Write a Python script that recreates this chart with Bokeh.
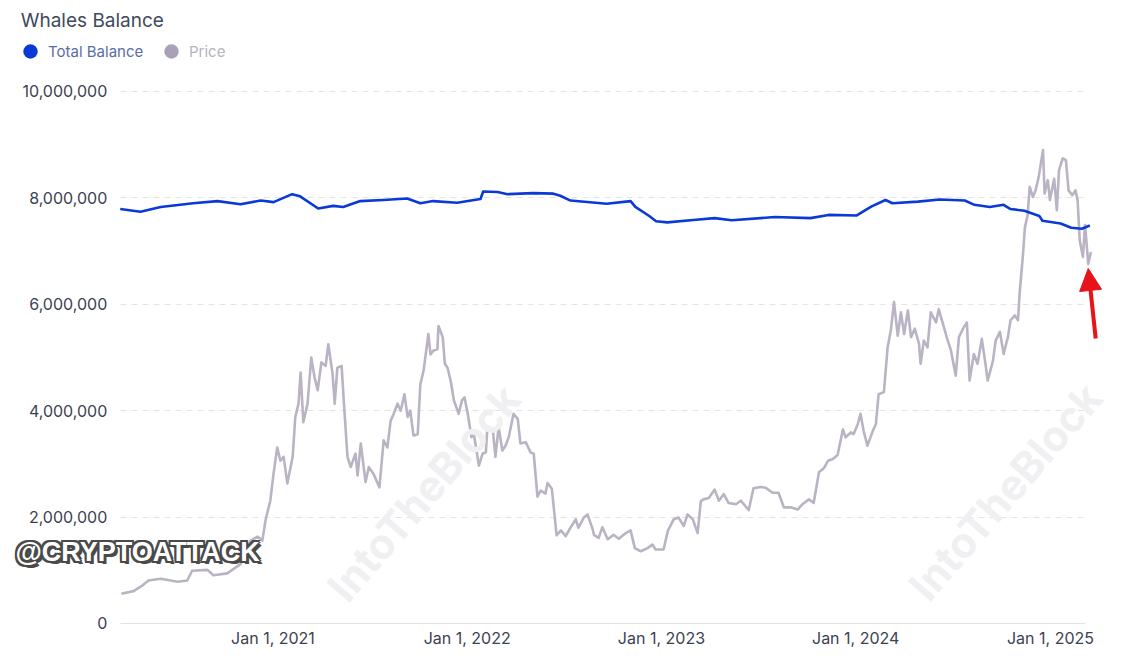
import pandas as pd
from bokeh.plotting import figure
from bokeh.models import (Range1d, FixedTicker, NumeralTickFormatter, Legend, LegendItem,
                          Label, Arrow, NormalHead, ColumnDataSource, Grid)
from bokeh.embed import file_html
from bokeh.resources import INLINE

# ---------------- data ----------------
balance_dates = [
    "2020-03-20", "2020-04-27", "2020-06-04", "2020-08-04", "2020-09-19", "2020-11-01",
    "2020-12-09", "2021-01-02", "2021-02-06", "2021-02-21", "2021-03-27", "2021-04-24",
    "2021-05-13", "2021-06-14", "2021-07-27", "2021-09-10", "2021-10-05", "2021-10-29",
    "2021-12-13", "2022-01-26", "2022-01-31", "2022-02-27", "2022-03-18", "2022-05-05",
    "2022-06-12", "2022-06-25", "2022-07-14", "2022-09-20", "2022-11-04", "2022-11-13",
    "2022-12-09", "2022-12-22", "2023-01-12", "2023-03-07", "2023-04-11", "2023-05-13",
    "2023-08-02", "2023-10-08", "2023-11-11", "2024-01-03", "2024-01-31", "2024-02-26",
    "2024-03-10", "2024-04-27", "2024-06-07", "2024-07-24", "2024-08-11", "2024-09-09",
    "2024-10-05", "2024-10-18", "2024-11-13", "2024-12-11", "2024-12-17", "2025-01-20",
    "2025-02-09", "2025-03-01", "2025-03-16",
]
balance_values = [
    7790000, 7740000, 7830000, 7900000, 7940000, 7880000,
    7950000, 7920000, 8070000, 8030000, 7800000, 7850000,
    7830000, 7940000, 7960000, 7990000, 7900000, 7940000,
    7910000, 7980000, 8120000, 8110000, 8070000, 8090000,
    8080000, 8040000, 7950000, 7890000, 7940000, 7830000,
    7660000, 7560000, 7540000, 7590000, 7620000, 7580000,
    7640000, 7620000, 7680000, 7670000, 7840000, 7960000,
    7900000, 7930000, 7970000, 7950000, 7870000, 7830000,
    7870000, 7790000, 7760000, 7660000, 7570000, 7520000,
    7440000, 7420000, 7480000,
]

price_dates = [
    "2020-03-22", "2020-04-14", "2020-05-01", "2020-05-12", "2020-06-04", "2020-07-06",
    "2020-07-24", "2020-08-02", "2020-08-31", "2020-09-11", "2020-10-07", "2020-11-01",
    "2020-11-20", "2020-12-03", "2020-12-12", "2020-12-18", "2020-12-27", "2021-01-02",
    "2021-01-09", "2021-01-15", "2021-01-21", "2021-01-28", "2021-02-07", "2021-02-12",
    "2021-02-18", "2021-02-22", "2021-02-27", "2021-03-07", "2021-03-14", "2021-03-20",
    "2021-03-26", "2021-04-02", "2021-04-10", "2021-04-15", "2021-04-23", "2021-04-27",
    "2021-05-02", "2021-05-10", "2021-05-14", "2021-05-21", "2021-05-27", "2021-06-05",
    "2021-06-09", "2021-06-15", "2021-06-24", "2021-06-30", "2021-07-09", "2021-07-20",
    "2021-07-28", "2021-08-04", "2021-08-10", "2021-08-16", "2021-08-23", "2021-08-29",
    "2021-09-05", "2021-09-11", "2021-09-16", "2021-09-22", "2021-09-30", "2021-10-05",
    "2021-10-11", "2021-10-20", "2021-10-24", "2021-10-30", "2021-11-06", "2021-11-08",
    "2021-11-16", "2021-11-20", "2021-11-25", "2021-12-01", "2021-12-07", "2021-12-16",
    "2021-12-22", "2021-12-27", "2022-01-02", "2022-01-09", "2022-01-13", "2022-01-23",
    "2022-01-30", "2022-02-05", "2022-02-08", "2022-02-18", "2022-02-23", "2022-03-01",
    "2022-03-08", "2022-03-14", "2022-03-20", "2022-03-29", "2022-04-06", "2022-04-11",
    "2022-04-21", "2022-04-30", "2022-05-06", "2022-05-13", "2022-05-19", "2022-05-28",
    "2022-06-01", "2022-06-09", "2022-06-18", "2022-06-26", "2022-07-05", "2022-07-14",
    "2022-07-24", "2022-07-29", "2022-08-08", "2022-08-15", "2022-08-25", "2022-08-27",
    "2022-09-05", "2022-09-12", "2022-09-22", "2022-10-03", "2022-10-13", "2022-10-26",
    "2022-11-04", "2022-11-12", "2022-11-23", "2022-12-06", "2022-12-15", "2022-12-21",
    "2023-01-05", "2023-01-13", "2023-01-24", "2023-02-02", "2023-02-12", "2023-02-19",
    "2023-03-01", "2023-03-10", "2023-03-16", "2023-03-21", "2023-03-31", "2023-04-11",
    "2023-04-19", "2023-04-28", "2023-05-07", "2023-05-21", "2023-05-30", "2023-06-14",
    "2023-06-23", "2023-07-06", "2023-07-16", "2023-07-29", "2023-08-09", "2023-08-19",
    "2023-09-01", "2023-09-14", "2023-09-23", "2023-10-05", "2023-10-14", "2023-10-24",
    "2023-11-02", "2023-11-10", "2023-11-19", "2023-11-28", "2023-12-08", "2023-12-13",
    "2023-12-23", "2023-12-28", "2024-01-05", "2024-01-10", "2024-01-16", "2024-01-23",
    "2024-02-02", "2024-02-08", "2024-02-13", "2024-02-23", "2024-03-01", "2024-03-07",
    "2024-03-13", "2024-03-20", "2024-03-26", "2024-04-01", "2024-04-08", "2024-04-14",
    "2024-04-21", "2024-04-29", "2024-05-02", "2024-05-08", "2024-05-15", "2024-05-21",
    "2024-05-31", "2024-06-05", "2024-06-13", "2024-06-20", "2024-06-28", "2024-07-07",
    "2024-07-13", "2024-07-22", "2024-07-28", "2024-08-02", "2024-08-10", "2024-08-17",
    "2024-08-25", "2024-08-31", "2024-09-05", "2024-09-15", "2024-09-20", "2024-09-28",
    "2024-10-05", "2024-10-13", "2024-10-18", "2024-10-26", "2024-11-01", "2024-11-04",
    "2024-11-10", "2024-11-14", "2024-11-19", "2024-11-23", "2024-11-29", "2024-12-04",
    "2024-12-10", "2024-12-18", "2024-12-21", "2024-12-27", "2024-12-31", "2025-01-08",
    "2025-01-13", "2025-01-17", "2025-01-24", "2025-01-30", "2025-02-04", "2025-02-11",
    "2025-02-17", "2025-02-21", "2025-02-25", "2025-03-03", "2025-03-07", "2025-03-13",
    "2025-03-18",
]
price_values = [
    6700, 7300, 8600, 9700, 10100, 9400,
    9700, 11900, 12100, 10900, 11300, 13400,
    18700, 19600, 18700, 23300, 27700, 33700,
    39700, 36700, 37600, 31600, 37600, 46600,
    49600, 56600, 45400, 49600, 60000, 55600,
    52600, 58900, 58100, 63000, 56300, 49600,
    57700, 58100, 50300, 37600, 35300, 38300,
    33400, 40600, 31900, 35300, 33700, 30700,
    41300, 39700, 45700, 47300, 49600, 48000,
    51700, 46600, 48000, 42400, 42700, 54000,
    57000, 65300, 60700, 61600, 61900, 67100,
    64600, 58600, 57700, 54700, 50300, 47300,
    50300, 51000, 47300, 42000, 43100, 35600,
    38300, 38600, 44300, 43900, 37600, 44300,
    39000, 40100, 42000, 47300, 46100, 40600,
    40900, 38600, 38300, 28600, 30000, 29300,
    31700, 30400, 19900, 21000, 19700, 21600,
    23500, 21600, 23900, 24600, 21200, 20000,
    19300, 21700, 19000, 20000, 19100, 20400,
    21000, 17000, 16300, 17000, 17800, 16700,
    16700, 20900, 23500, 23900, 22000, 24600,
    23500, 20400, 27600, 28000, 28300, 30200,
    27700, 29200, 27200, 26900, 27700, 25600,
    30500, 30800, 30600, 29500, 29500, 26200,
    26200, 25700, 26900, 28000, 27200, 34100,
    35000, 36700, 37100, 38000, 43800, 42000,
    43100, 42700, 45000, 47300, 43400, 40100,
    43400, 45000, 51700, 52200, 62300, 66100,
    72500, 64900, 70200, 65300, 70600, 64600,
    66500, 63100, 58600, 63800, 62300, 70200,
    67900, 70900, 67600, 64600, 61600, 55900,
    64600, 66800, 67900, 54800, 60800, 58600,
    64200, 59300, 54800, 59300, 63800, 65800,
    60800, 64600, 68400, 69500, 68400, 74400,
    82700, 89400, 92000, 98500, 96200, 97700,
    100800, 106800, 97000, 100000, 95500, 100300,
    93200, 102200, 104900, 104500, 97700, 96600,
    97700, 95500, 86400, 82700, 89900, 81100,
    83800,
]

y_ticks = [0, 2000000, 4000000, 6000000, 8000000, 10000000]
x_tick_dates = ["2021-01-01", "2022-01-01", "2023-01-01", "2024-01-01", "2025-01-01"]
x_tick_labels = ["Jan 1, 2021", "Jan 1, 2022", "Jan 1, 2023", "Jan 1, 2024", "Jan 1, 2025"]
series_names = ["Total Balance", "Price"]
chart_title = "Whales Balance"

# ---------------- layout constants ----------------
FONT = "Inter"
W, H = 1125, 658
ms = lambda d: pd.Timestamp(d).value / 1e6
VIEW_X = (ms("2019-08-08"), ms("2025-05-22"))      # the frame covers the whole canvas
VIEW_Y = (-657900, 11710500)                         # room for header above and ticks below
VIEW_PRICE = (-7895, 140526)
AXIS_AT = ms("2020-03-20")                           # where the value axis sits
GRID_X = (ms("2020-03-20"), ms("2025-03-08"))

bal_src = ColumnDataSource(dict(x=pd.to_datetime(balance_dates), y=balance_values))
pr_src = ColumnDataSource(dict(x=pd.to_datetime(price_dates), y=price_values))

p = figure(width=W, height=H, x_axis_type="datetime", output_backend="svg",
           toolbar_location=None, tools="",
           x_range=Range1d(*VIEW_X), y_range=Range1d(*VIEW_Y),
           min_border_left=0, min_border_right=0, min_border_top=0, min_border_bottom=0)
p.extra_y_ranges = {"price": Range1d(*VIEW_PRICE)}
p.outline_line_color = None
p.background_fill_color = "white"
p.border_fill_color = "white"

# axes
p.yaxis.fixed_location = AXIS_AT
p.yaxis.ticker = FixedTicker(ticks=y_ticks)
p.yaxis.formatter = NumeralTickFormatter(format="0,0")
p.yaxis.axis_line_color = None
p.yaxis.major_tick_line_color = None
p.yaxis.major_tick_out = 0
p.yaxis.major_tick_in = 0
p.yaxis.minor_tick_line_color = None
p.yaxis.major_label_standoff = 13
p.yaxis.major_label_text_font = FONT
p.yaxis.major_label_text_font_size = "16px"
p.yaxis.major_label_text_color = "#3b4352"

x_ticks_ms = [int(ms(d)) for d in x_tick_dates]
p.xaxis.fixed_location = 0
p.xaxis.ticker = FixedTicker(ticks=x_ticks_ms)
p.xaxis.major_label_overrides = {t: lab for t, lab in zip(x_ticks_ms, x_tick_labels)}
p.xaxis.axis_line_color = None
p.xaxis.major_tick_line_color = None
p.xaxis.major_tick_out = 0
p.xaxis.major_tick_in = 0
p.xaxis.minor_tick_line_color = None
p.xaxis.major_label_standoff = 5
p.xaxis.major_label_text_font = FONT
p.xaxis.major_label_text_font_size = "16px"
p.xaxis.major_label_text_color = "#3b4352"

# grid
p.xgrid.grid_line_color = None
p.ygrid.ticker = FixedTicker(ticks=y_ticks[1:])
p.ygrid.grid_line_color = "#e4e4e4"
p.ygrid.grid_line_dash = "6 5"
zero_grid = Grid(dimension=1, ticker=FixedTicker(ticks=y_ticks[:1]), grid_line_color="#e2e2e2")
p.add_layout(zero_grid)
if "cross_bounds" in p.ygrid[0].properties():
    p.ygrid.cross_bounds = GRID_X
    zero_grid.cross_bounds = GRID_X
else:
    p.ygrid.grid_line_color = None
    zero_grid.grid_line_color = None
    gsrc = ColumnDataSource(dict(y=y_ticks, x0=[GRID_X[0]] * len(y_ticks), x1=[GRID_X[1]] * len(y_ticks)))
    p.segment("x0", "y", "x1", "y", source=gsrc, line_color="#e4e4e4", line_dash="6 5")

# watermarks
wm_kw = dict(text="IntoTheBlock", text_font=FONT, text_font_style="bold", text_font_size="42px",
             text_color="#f0f0f2", text_align="center", text_baseline="middle", angle=0.86)
p.add_layout(Label(x=ms("2021-10-11"), y=2460000, **wm_kw))
p.add_layout(Label(x=ms("2024-10-08"), y=2480000, **wm_kw))

# lines
price_r = p.line("x", "y", source=pr_src, y_range_name="price", line_color="#bab3c4",
                 line_width=2.6, line_join="round")
bal_r = p.line("x", "y", source=bal_src, line_color="#0a3ad6", line_width=2.6, line_join="round")

# crypto-attack tag
tag_kw = dict(x=ms("2019-09-05"), y=1335000, text="@CRYPTOATTACK",
              text_font="Liberation Sans", text_font_style="bold", text_font_size="27px",
              text_align="left", text_baseline="middle")
for dx, dy in [(-2, 0), (2, 0), (0, -2), (0, 2), (-2, -2), (2, 2), (-2, 2), (2, -2), (3, -3)]:
    p.add_layout(Label(x_offset=dx, y_offset=dy, text_color="#4a4a4a", **tag_kw))
p.add_layout(Label(text_color="white", **tag_kw))

# red arrow
p.add_layout(Arrow(end=NormalHead(size=22, fill_color="#e8121b", line_color="#e8121b"),
                   x_start=ms("2025-03-27"), y_start=5357000,
                   x_end=ms("2025-03-13"), y_end=6673000,
                   line_color="#e8121b", line_width=4))

# title
p.add_layout(Label(x=ms("2019-09-15"), y=11335000, text=chart_title, text_font=FONT,
                   text_font_size="19px", text_color="#404a5c", text_baseline="middle",
                   text_align="left"))

# legend (dots drawn by invisible NaN-point circle markers)
nan = float("nan")
dot_b = p.scatter(x=[nan], y=[nan], marker="circle", size=16, fill_color="#0a3ad6", line_color=None)
dot_p = p.scatter(x=[nan], y=[nan], marker="circle", size=16, fill_color="#aaa1b6", line_color=None)
leg_common = dict(orientation="horizontal", glyph_width=36, glyph_height=36, label_standoff=0,
                  padding=0, margin=0, border_line_color=None, background_fill_alpha=0,
                  label_text_font=FONT, label_text_font_size="15px", label_height=20)
leg1 = Legend(items=[LegendItem(label=series_names[0], renderers=[dot_b])],
              location=(12, 589), label_text_color="#5a6da6", **leg_common)
leg2 = Legend(items=[LegendItem(label=series_names[1], renderers=[dot_p])],
              location=(153, 589), label_text_color="#b4b3bd", **leg_common)
p.add_layout(leg1)
p.add_layout(leg2)

open("out.html", "w").write(file_html(p, INLINE))
